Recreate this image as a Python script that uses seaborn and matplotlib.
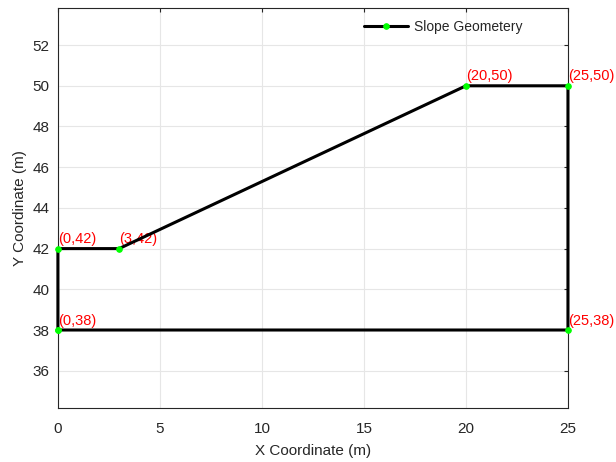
import matplotlib
matplotlib.use("Agg")
import matplotlib.pyplot as plt
import pandas as pd
import seaborn as sns

# slope outline, in drawing order
x_pts = [0, 0, 3, 20, 25, 25, 0]
y_pts = [38, 42, 42, 50, 50, 38, 38]
labels = ["(0,38)", "(0,42)", "(3,42)", "(20,50)", "(25,50)", "(25,38)"]

sns.set_style("whitegrid")
plt.rcParams["font.family"] = ["Liberation Sans", "DejaVu Sans"]

df = pd.DataFrame({"x": x_pts, "y": y_pts, "order": range(len(x_pts))})

fig = plt.figure(figsize=(6.16, 4.62), dpi=100)
ax = fig.add_axes([0.094, 0.117, 0.828, 0.866])

sns.lineplot(data=df, x="x", y="y", sort=False, estimator=None, ax=ax,
             color="black", linewidth=2.2, marker="o", markersize=4,
             markerfacecolor="#00ff00", markeredgecolor="#00ff00",
             label="Slope Geometery")
for ln in ax.lines:
    ln.set_clip_on(False)
    ln.set_zorder(5)

for xx, yy, lab in zip(x_pts[:-1], y_pts[:-1], labels):
    ax.text(xx, yy + 0.12, lab, color="red", fontsize=10.5, ha="left", va="bottom")

ax.set_xlim(0, 25)
ax.set_ylim(34.17, 53.83)
ax.set_xticks([0, 5, 10, 15, 20, 25])
ax.set_yticks([36, 38, 40, 42, 44, 46, 48, 50, 52])
ax.set_xlabel("X Coordinate (m)", fontsize=11, color="#262626", labelpad=6)
ax.set_ylabel("Y Coordinate (m)", fontsize=11, color="#262626")
ax.tick_params(direction="in", length=3, labelsize=11, colors="#262626",
               top=True, right=True, labeltop=False, labelright=False)
ax.tick_params(axis="x", pad=10)
ax.tick_params(axis="y", pad=6)
ax.grid(True, color="#e6e6e6", linewidth=0.8)
for s in ax.spines.values():
    s.set_color("#262626")
    s.set_linewidth(0.8)

leg = ax.legend(loc="upper right", bbox_to_anchor=(0.935, 1.0), frameon=False,
                fontsize=10, handlelength=3.2, handletextpad=0.4)

fig.savefig("out.png", dpi=100)
